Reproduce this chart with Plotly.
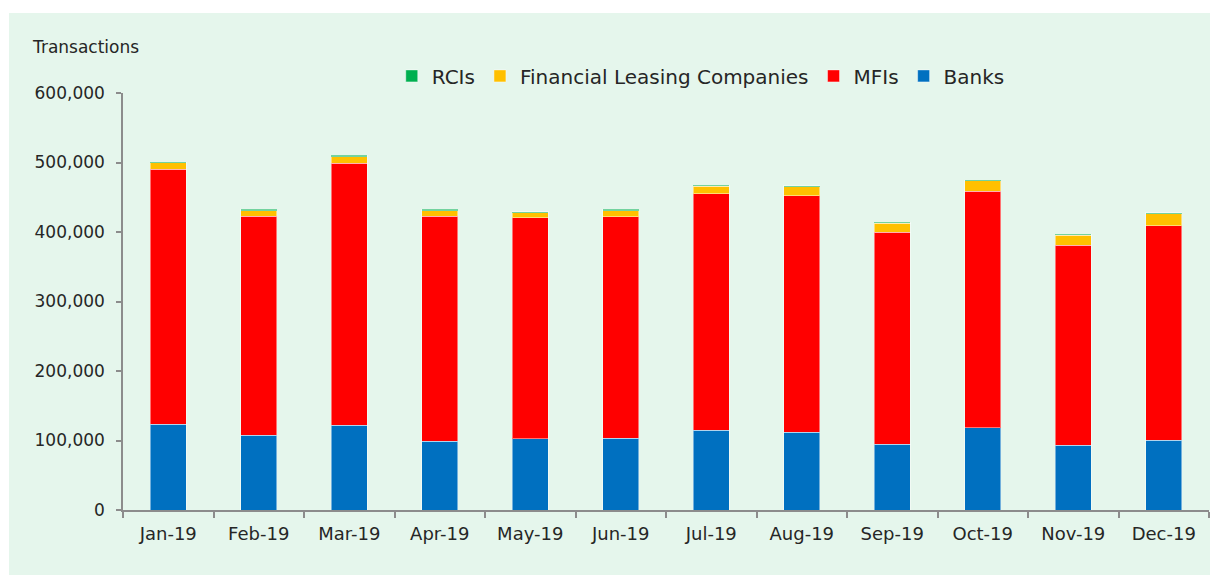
import plotly.graph_objects as go

months = ["Jan-19", "Feb-19", "Mar-19", "Apr-19", "May-19", "Jun-19",
          "Jul-19", "Aug-19", "Sep-19", "Oct-19", "Nov-19", "Dec-19"]
banks = [123700, 107900, 122300, 98800, 102600, 103600,
         114700, 111800, 94500, 118400, 93500, 100700]
mfis = [366900, 315100, 376500, 324200, 318000, 318400,
        340500, 340500, 305500, 340600, 287800, 308400]
flc = [9100, 7600, 9600, 7600, 7200, 8600,
       10600, 12900, 12500, 14400, 13900, 17300]
rcis = [1000, 2000, 1900, 2400, 1400, 2000,
        1800, 1400, 1400, 1400, 1400, 1400]

font_family = "DejaVu Sans"
text_color = "#262626"
bar_line = dict(color="rgba(255,255,255,0.45)", width=1)

fig = go.Figure()
fig.add_trace(go.Bar(name="Banks", x=months, y=banks,
                     marker=dict(color="#0070C0", line=bar_line)))
fig.add_trace(go.Bar(name="MFIs", x=months, y=mfis,
                     marker=dict(color="#FF0000", line=bar_line)))
fig.add_trace(go.Bar(name="Financial Leasing Companies", x=months, y=flc,
                     marker=dict(color="#FFC000", line=bar_line)))
fig.add_trace(go.Bar(name="RCIs", x=months, y=rcis,
                     marker=dict(color="#00B050", line=bar_line)))

fig.update_layout(
    barmode="stack",
    bargap=0.6,
    width=1218, height=567,
    margin=dict(l=115, r=17, t=85, b=65),
    paper_bgcolor="white",
    plot_bgcolor="rgba(0,0,0,0)",
    font=dict(family=font_family, color=text_color, size=16),
    showlegend=True,
    legend=dict(orientation="h", x=0.532, xanchor="center", y=1.041,
                yanchor="middle", traceorder="reversed",
                font=dict(size=20, color=text_color),
                bgcolor="rgba(0,0,0,0)", itemwidth=30),
    shapes=[dict(type="rect", xref="paper", yref="paper",
                 x0=-0.105, x1=1.03, y0=-0.17, y1=1.192,
                 fillcolor="#E5F6EC", line=dict(width=0), layer="below")],
    annotations=[dict(text="Transactions", xref="paper", yref="paper",
                      x=-0.086, y=1.110, xanchor="left", yanchor="middle",
                      showarrow=False, font=dict(size=17, color=text_color))],
)
fig.update_xaxes(showline=True, linecolor="#8C8C8C", linewidth=1.5,
                 ticks="outside", tickson="boundaries", ticklen=6,
                 tickcolor="#8C8C8C", tickwidth=1.5, ticklabelstandoff=7,
                 tickfont=dict(size=18, color=text_color), showgrid=False)
fig.update_yaxes(range=[0, 600000], dtick=100000, tickformat=",d",
                 showline=True, linecolor="#8C8C8C", linewidth=1.5,
                 ticks="outside", ticklen=5, tickcolor="#8C8C8C", tickwidth=1.5,
                 ticklabelstandoff=8,
                 tickfont=dict(size=17, color=text_color), showgrid=False,
                 zeroline=False)

fig.write_html("out.html")
